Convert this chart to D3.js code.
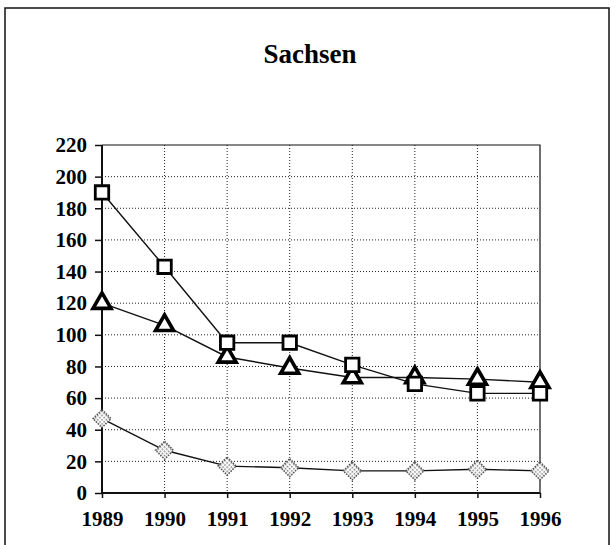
<!DOCTYPE html>
<html>
<head>
<meta charset="utf-8">
<script src="https://cdn.jsdelivr.net/npm/d3@7"></script>
<style>
  body { margin: 0; background: #fff; }
  text { font-family: "Liberation Serif", "Times New Roman", serif; font-weight: bold; }
</style>
</head>
<body>
<div id="chart"></div>
<script>
var w = 615
var h = 545

// data
var years = [1989, 1990, 1991, 1992, 1993, 1994, 1995, 1996]
var squares = [190, 143, 95, 95, 81, 69, 63, 63]
var triangles = [120, 106, 86, 79, 73, 73, 72, 70]
var diamonds = [47, 27, 17, 16, 14, 14, 15, 14]
var yTicks = [0, 20, 40, 60, 80, 100, 120, 140, 160, 180, 200, 220]
var title = "Sachsen"

var pLeft = 102, pRight = 540, pTop = 145, pBottom = 493

var svg = d3.select("#chart").append("svg").attr("width", w).attr("height", h)

// dotted fill for the diamond markers
var pat = svg.append("defs").append("pattern")
    .attr("id", "dots").attr("width", 3).attr("height", 3)
    .attr("patternUnits", "userSpaceOnUse")
pat.append("rect").attr("width", 3).attr("height", 3).attr("fill", "#fff")
pat.append("rect").attr("width", 1.5).attr("height", 1.5).attr("fill", "#777")

// outer frame
svg.append("rect")
    .attr("x", 5).attr("y", 8)
    .attr("width", 604).attr("height", 560)
    .attr("fill", "none")
    .attr("stroke", "#111")
    .attr("stroke-width", 1.5)

svg.append("text")
    .text(title)
    .attr("x", 310)
    .attr("y", 63)
    .attr("text-anchor", "middle")
    .attr("font-size", 27)

var x = d3.scalePoint().domain(years).range([pLeft, pRight])
var y = d3.scaleLinear().domain([0, 220]).range([pBottom, pTop])

// grid
svg.append("g").selectAll("line")
    .data(yTicks.slice(1, -1))
    .enter().append("line")
    .attr("x1", pLeft).attr("x2", pRight)
    .attr("y1", function(d) { return y(d) })
    .attr("y2", function(d) { return y(d) })
    .attr("stroke", "#222").attr("stroke-width", 1)
    .attr("stroke-dasharray", "1,2")

svg.append("g").selectAll("line")
    .data(years.slice(1, -1))
    .enter().append("line")
    .attr("y1", pTop).attr("y2", pBottom)
    .attr("x1", function(d) { return x(d) })
    .attr("x2", function(d) { return x(d) })
    .attr("stroke", "#222").attr("stroke-width", 1)
    .attr("stroke-dasharray", "1,2")

// top and right border
svg.append("path")
    .attr("d", "M" + pLeft + "," + pTop + "H" + pRight + "V" + pBottom)
    .attr("fill", "none").attr("stroke", "#111").attr("stroke-width", 1.2)

// axes
var yAxis = d3.axisLeft(y).tickValues(yTicks).tickSize(7).tickPadding(8)
var gy = svg.append("g").attr("transform", "translate(" + pLeft + ",0)").call(yAxis)
var xAxis = d3.axisBottom(x).tickSize(5).tickPadding(13)
var gx = svg.append("g").attr("transform", "translate(0," + pBottom + ")").call(xAxis)

;[gy, gx].forEach(function(g) {
    g.attr("font-size", 21).attr("font-family", "Liberation Serif, serif")
    g.select(".domain").attr("stroke", "#111").attr("stroke-width", 2)
    g.selectAll(".tick line").attr("stroke", "#111").attr("stroke-width", 1.5)
    g.selectAll(".tick text")
        .attr("font-weight", "bold")
        .attr("fill", "#000")
})
gy.select(".domain").attr("d", "M0," + pTop + "V" + pBottom)
gx.select(".domain").attr("d", "M" + pLeft + ",0H" + pRight)

var line = d3.line()
    .x(function(d, i) { return x(years[i]) })
    .y(function(d) { return y(d) })

function series(data, shape, size, rot, fill, stroke, sw, dash) {
    svg.append("path")
        .datum(data)
        .attr("d", line)
        .attr("fill", "none")
        .attr("stroke", "#111")
        .attr("stroke-width", 1.4)
    var sym = d3.symbol().type(shape).size(size)
    svg.append("g").selectAll("path")
        .data(data)
        .enter().append("path")
        .attr("d", sym)
        .attr("transform", function(d, i) {
            return "translate(" + x(years[i]) + "," + y(d) + ") rotate(" + rot + ")"
        })
        .attr("fill", fill)
        .attr("stroke", stroke)
        .attr("stroke-width", sw)
        .attr("stroke-dasharray", dash)
}

series(diamonds, d3.symbolSquare, 160, 45, "url(#dots)", "#555", 1.6, "1.5,1.2")
series(triangles, d3.symbolTriangle, 140, 0, "#fff", "#000", 3.6, null)
series(squares, d3.symbolSquare, 180, 0, "#fff", "#000", 2.8, null)
</script>
</body>
</html>
